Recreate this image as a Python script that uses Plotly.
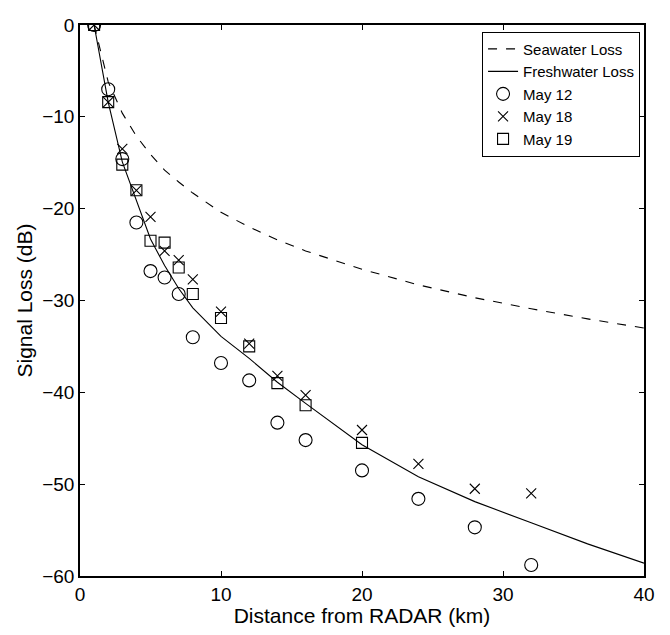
import plotly.graph_objects as go

curve_x = [1, 2, 3, 4, 5, 6, 7, 8, 10, 12, 14, 16, 20, 24, 28, 32, 36, 40]
seawater = [0, -6.2, -9.6, -12.1, -14.1, -15.8, -17.1, -18.3, -20.4, -22.0,
            -23.4, -24.6, -26.6, -28.3, -29.7, -30.9, -32.0, -33.0]
freshwater = [0, -8.4, -14.9, -19.0, -23.3, -26.2, -28.7, -30.8, -33.9, -36.3,
              -38.9, -41.2, -45.7, -49.2, -51.9, -54.2, -56.5, -58.6]

may12_x = [1, 2, 3, 4, 5, 6, 7, 8, 10, 12, 14, 16, 20, 24, 28, 32]
may12_y = [0, -7.0, -14.6, -21.5, -26.8, -27.5, -29.3, -34.0, -36.8, -38.7,
           -43.3, -45.2, -48.5, -51.6, -54.7, -58.8]
may18_x = [1, 2, 3, 4, 5, 6, 7, 8, 10, 12, 14, 16, 20, 24, 28, 32]
may18_y = [0, -8.4, -13.5, -18.0, -20.9, -24.6, -25.6, -27.7, -31.2, -34.7,
           -38.2, -40.3, -44.1, -47.8, -50.5, -51.0]
may19_x = [1, 2, 3, 4, 5, 6, 7, 8, 10, 12, 14, 16, 20]
may19_y = [0, -8.4, -15.2, -18.0, -23.5, -23.7, -26.4, -29.3, -31.9, -35.0,
           -39.0, -41.4, -45.5]

FONT = "Liberation Sans, Arial, sans-serif"

fig = go.Figure()
fig.add_trace(go.Scatter(x=curve_x, y=seawater, mode="lines", name="Seawater Loss",
                         line=dict(color="black", width=1.1, dash="dash")))
fig.add_trace(go.Scatter(x=curve_x, y=freshwater, mode="lines", name="Freshwater Loss",
                         line=dict(color="black", width=1.1)))
fig.add_trace(go.Scatter(x=may12_x, y=may12_y, mode="markers", name="May 12",
                         marker=dict(symbol="circle-open", size=13, color="black",
                                     line=dict(width=1.1, color="black"))))
fig.add_trace(go.Scatter(x=may18_x, y=may18_y, mode="markers", name="May 18",
                         marker=dict(symbol="x-thin-open", size=10, color="black",
                                     line=dict(width=1.1, color="black"))))
fig.add_trace(go.Scatter(x=may19_x, y=may19_y, mode="markers", name="May 19",
                         marker=dict(symbol="square-open", size=11, color="black",
                                     line=dict(width=1.1, color="black"))))

axis_common = dict(showline=True, linecolor="black", linewidth=1.5, mirror="ticks",
                   ticks="inside", ticklen=5, tickcolor="black", tickwidth=1,
                   showgrid=False, zeroline=False, ticklabeloverflow="allow",
                   tickfont=dict(family=FONT, size=19, color="black"))

fig.update_layout(
    width=654, height=619,
    margin=dict(l=72, r=15, t=7, b=44),
    plot_bgcolor="white", paper_bgcolor="white",
    font=dict(family=FONT, color="black"),
    xaxis=dict(range=[0, 40], tickvals=[0, 10, 20, 30, 40],
               title=dict(text="Distance from RADAR (km)", font=dict(size=21), standoff=1),
               **axis_common),
    yaxis=dict(range=[-60, 0], tickvals=[0, -10, -20, -30, -40, -50, -60],
               title=dict(text="Signal Loss (dB)", font=dict(size=21), standoff=4),
               **axis_common),
    legend=dict(x=0.993, y=0.988, xanchor="right", yanchor="top",
                bgcolor="white", bordercolor="black", borderwidth=1,
                font=dict(family=FONT, size=15, color="black"),
                tracegroupgap=0, itemwidth=30),
    showlegend=True,
)

fig.write_html("out.html")
